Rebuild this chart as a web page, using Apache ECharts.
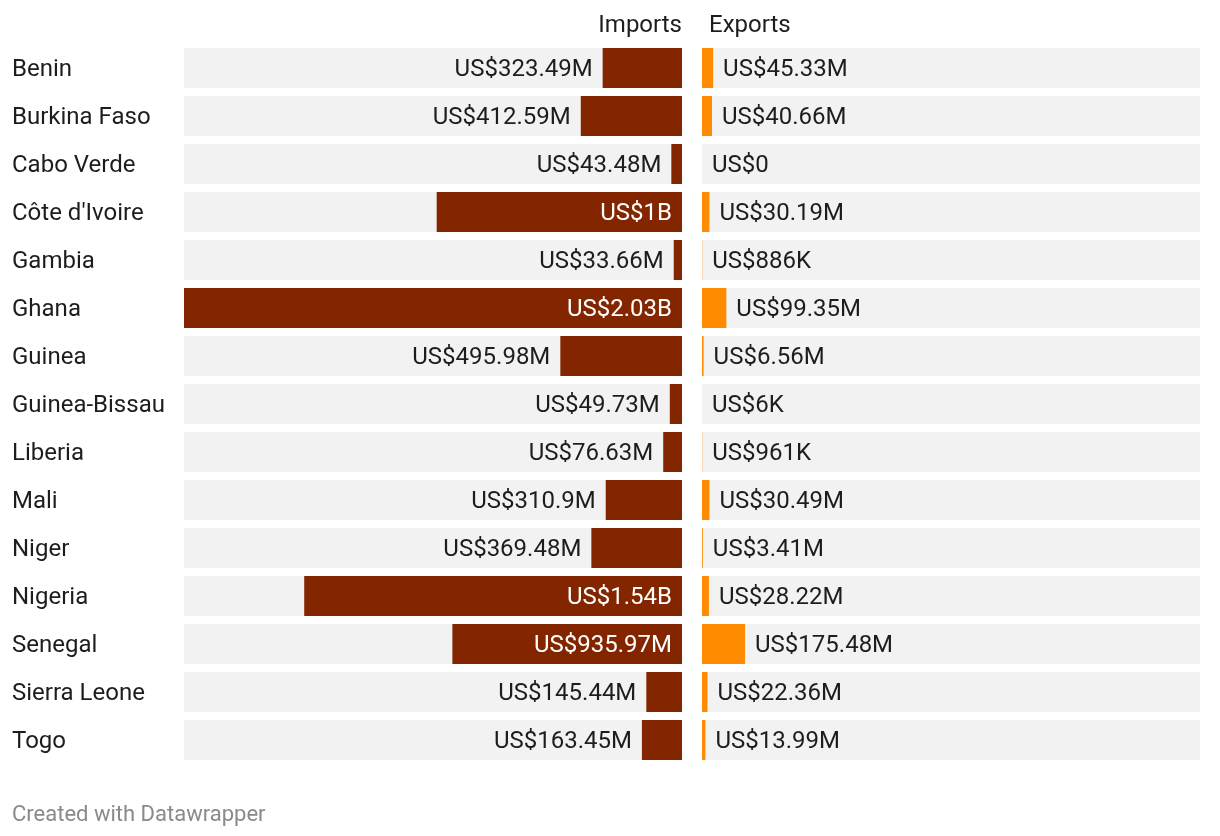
<!DOCTYPE html>
<html>
<head>
<meta charset="utf-8">
<script src="https://cdn.jsdelivr.net/npm/echarts@6/dist/echarts.min.js"></script>
<style>
html,body{margin:0;padding:0;background:#fff;}
#chart{width:1220px;height:836px;}
</style>
</head>
<body>
<div id="chart"></div>
<script>
// Values in millions of US$
var countries = ['Benin','Burkina Faso','Cabo Verde',"Côte d'Ivoire",'Gambia','Ghana','Guinea','Guinea-Bissau','Liberia','Mali','Niger','Nigeria','Senegal','Sierra Leone','Togo'];
var imports = [323.49, 412.59, 43.48, 1000, 33.66, 2030, 495.98, 49.73, 76.63, 310.9, 369.48, 1540, 935.97, 145.44, 163.45];
var exports_ = [45.33, 40.66, 0, 30.19, 0.886, 99.35, 6.56, 0.006, 0.961, 30.49, 3.41, 28.22, 175.48, 22.36, 13.99];
var headers = ['Imports', 'Exports'];
var footer = 'Created with Datawrapper';

function fmt(m) {
  if (m === 0) return 'US$0';
  if (m >= 1000) return 'US$' + (+(m / 1000).toFixed(2)) + 'B';
  if (m >= 1) return 'US$' + (+m.toFixed(2)) + 'M';
  return 'US$' + Math.round(m * 1000) + 'K';
}

var FONT = 'Roboto, "Noto Sans", sans-serif';
var TEXT = '#1d1d1d';
var FS = 24;
var maxVal = Math.max.apply(null, imports.concat(exports_));

var importData = imports.map(function (v) {
  var inside = v > 700;
  return {
    value: v,
    label: inside
      ? { position: 'insideRight', color: '#ffffff', distance: 10 }
      : { position: 'left', color: TEXT, distance: 10 }
  };
});

var chart = echarts.init(document.getElementById('chart'), null, { renderer: 'canvas' });
chart.setOption({
  animation: false,
  backgroundColor: '#ffffff',
  textStyle: { fontFamily: FONT },
  grid: [
    { left: 184, top: 44, width: 498, height: 720, containLabel: false },
    { left: 702, top: 44, width: 498, height: 720, containLabel: false }
  ],
  xAxis: [
    { gridIndex: 0, type: 'value', min: 0, max: maxVal, inverse: true, show: false },
    { gridIndex: 1, type: 'value', min: 0, max: maxVal, show: false }
  ],
  yAxis: [
    {
      gridIndex: 0, type: 'category', data: countries, inverse: true,
      axisLine: { show: false }, axisTick: { show: false }, splitLine: { show: false },
      axisLabel: { margin: 172, align: 'left', verticalAlign: 'top', lineHeight: 4, fontSize: FS, color: TEXT, fontFamily: FONT }
    },
    {
      gridIndex: 1, type: 'category', data: countries, inverse: true,
      axisLine: { show: false }, axisTick: { show: false }, splitLine: { show: false },
      axisLabel: { show: false }
    }
  ],
  series: [
    {
      name: headers[0], type: 'bar', xAxisIndex: 0, yAxisIndex: 0,
      data: importData, barWidth: 40,
      itemStyle: { color: '#832600' },
      showBackground: true, backgroundStyle: { color: '#f2f2f2' },
      label: {
        show: true, fontSize: FS, fontFamily: FONT, offset: [0, 2],
        formatter: function (p) { return fmt(p.value); }
      }
    },
    {
      name: headers[1], type: 'bar', xAxisIndex: 1, yAxisIndex: 1,
      data: exports_, barWidth: 40,
      itemStyle: { color: '#ff8c00' },
      showBackground: true, backgroundStyle: { color: '#f2f2f2' },
      label: {
        show: true, position: 'right', distance: 10, fontSize: FS, color: TEXT, fontFamily: FONT, offset: [0, 2],
        formatter: function (p) { return fmt(p.value); }
      }
    }
  ],
  graphic: [
    { type: 'text', x: 682, y: 26,
      style: { text: headers[0], fontSize: FS, fill: TEXT, fontFamily: FONT, align: 'right', textAlign: 'right', verticalAlign: 'middle', textVerticalAlign: 'middle' } },
    { type: 'text', x: 709, y: 26,
      style: { text: headers[1], fontSize: FS, fill: TEXT, fontFamily: FONT, align: 'left', textAlign: 'left', verticalAlign: 'middle', textVerticalAlign: 'middle' } },
    { type: 'text', x: 12, y: 815,
      style: { text: footer, fontSize: 22, fill: '#8a8a8a', fontFamily: FONT, align: 'left', textAlign: 'left', verticalAlign: 'middle', textVerticalAlign: 'middle' } }
  ]
});
</script>
</body>
</html>
